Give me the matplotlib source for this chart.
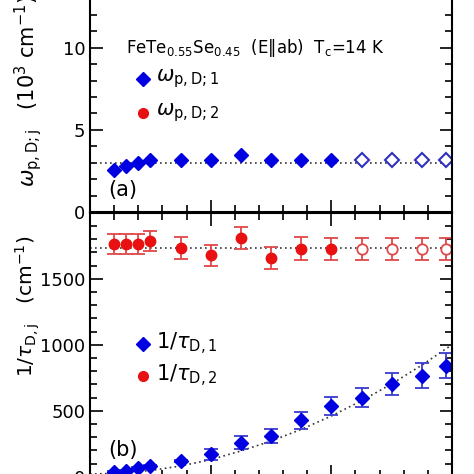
import matplotlib
matplotlib.use("Agg")
import matplotlib.pyplot as plt
import numpy as np

# temperatures (K)
T = [20, 30, 40, 50, 75, 100, 125, 150, 175, 200, 225, 250, 275, 295]
n_filled = 10  # points above 200 K are drawn open

# (a) plasma frequencies, 10^3 cm^-1
wp1 = [2.56, 2.82, 2.96, 3.14, 3.16, 3.18, 3.45, 3.18, 3.18, 3.18, 3.18, 3.18, 3.18, 3.18]
wp_line = 3.0

# (b) scattering rates, cm^-1
tau1 = [36, 41, 66, 83, 119, 170, 258, 306, 427, 536, 599, 702, 765, 841]
tau1_err = [6, 6, 7, 8, 10, 43, 48, 54, 66, 71, 72, 81, 95, 96]
tau2 = [1765, 1765, 1765, 1786, 1735, 1677, 1808, 1657, 1727, 1727, 1727, 1727, 1727, 1727]
tau2_err = [75, 75, 75, 75, 82, 82, 82, 86, 88, 84, 84, 84, 84, 84]
tau2_line = 1730

# dotted guide for 1/tau_D,1
guide_T = [0, 25, 50, 75, 100, 125, 150, 175, 200, 225, 250, 275, 300]
guide_v = [20, 27, 47, 81, 129, 195, 270, 358, 460, 575, 703, 845, 1000]

blue = "#0000e0"
blue_e = "#3a3ad0"
red = "#e81010"
red_e = "#e04848"

fig = plt.figure(figsize=(4.74, 4.74), dpi=100)
L, W = 90 / 474, 362 / 474
ax1 = fig.add_axes([L, 1 - 212 / 474, W, 246.5 / 474])
ax2 = fig.add_axes([L, 1 - 476.7 / 474, W, 264 / 474])

for ax in (ax1, ax2):
    ax.set_xlim(0, 300)
    ax.set_xticks([0, 100, 200, 300])
    ax.set_xticks(np.arange(0, 301, 20), minor=True)
    ax.tick_params(which="both", direction="in", top=True, right=True,
                   labelsize=13, width=1.2)
    ax.tick_params(which="major", length=9)
    ax.tick_params(which="minor", length=5)
    for s in ax.spines.values():
        s.set_linewidth(1.5)
    ax.set_xticklabels([])

# panel (a)
ax1.set_ylim(0, 15)
ax1.set_yticks([0, 5, 10, 15])
ax1.set_yticks(np.arange(0, 16, 1), minor=True)
ax1.axhline(wp_line, color="#333333", ls=(0, (1, 2)), lw=1.2)
ax1.plot(T[:n_filled], wp1[:n_filled], "D", color=blue, ms=7.5, ls="none")
ax1.plot(T[n_filled:], wp1[n_filled:], "D", mfc="white", mec="#3030c0", mew=1.5,
         ms=7.5, ls="none")
ax1.plot([44], [8.1], "D", color=blue, ms=7)
ax1.plot([44], [6.05], "o", color=red, ms=7)
ax1.text(55, 8.1, r"$\omega_{\mathrm{p,D;1}}$", fontsize=15, va="center")
ax1.text(55, 6.05, r"$\omega_{\mathrm{p,D;2}}$", fontsize=15, va="center")
ax1.text(30, 10.0, r"FeTe$_{0.55}$Se$_{0.45}$  (E$\Vert$ab)  T$_{\mathrm{c}}$=14 K",
         fontsize=12, va="center")
ax1.text(15, 1.35, "(a)", fontsize=15, va="center")

# panel (b)
ax2.set_ylim(0, 2000)
ax2.set_yticks([0, 500, 1000, 1500])
ax2.set_yticks(np.arange(0, 2001, 100), minor=True)
ax2.axhline(tau2_line, color="#333333", ls=(0, (1, 2)), lw=1.2)
ax2.plot(guide_T, guide_v, color="#333333", ls=(0, (1, 2)), lw=1.2)
ax2.errorbar(T[:n_filled], tau2[:n_filled], yerr=tau2_err[:n_filled], fmt="o",
             color=red, ecolor=red_e, ms=7.5, capsize=5, elinewidth=1.3, capthick=1.3)
ax2.errorbar(T[n_filled:], tau2[n_filled:], yerr=tau2_err[n_filled:], fmt="o",
             mfc="white", mec=red_e, mew=1.3, ecolor=red_e, ms=7.5, capsize=5,
             elinewidth=1.3, capthick=1.3)
ax2.errorbar(T, tau1, yerr=tau1_err, fmt="D", color=blue, ecolor=blue_e, ms=7.5,
             capsize=5, elinewidth=1.3, capthick=1.3)
ax2.plot([44], [1005], "D", color=blue, ms=7)
ax2.plot([44], [765], "o", color=red, ms=7)
ax2.text(55, 1005, r"$1/\tau_{\mathrm{D,1}}$", fontsize=15, va="center")
ax2.text(55, 765, r"$1/\tau_{\mathrm{D,2}}$", fontsize=15, va="center")
ax2.text(15, 200, "(b)", fontsize=15, va="center")

fig.text(28 / 474, 1 - 187 / 474, r"$\omega_{\mathrm{p,D;j}}$   (10$^3$ cm$^{-1}$)",
         rotation=90, ha="center", va="bottom", fontsize=15)
fig.text(28 / 474, 1 - 377 / 474, r"$1/\tau_{\mathrm{D,j}}$   (cm$^{-1}$)",
         rotation=90, ha="center", va="bottom", fontsize=14.5)

fig.savefig("out.png", dpi=100)
